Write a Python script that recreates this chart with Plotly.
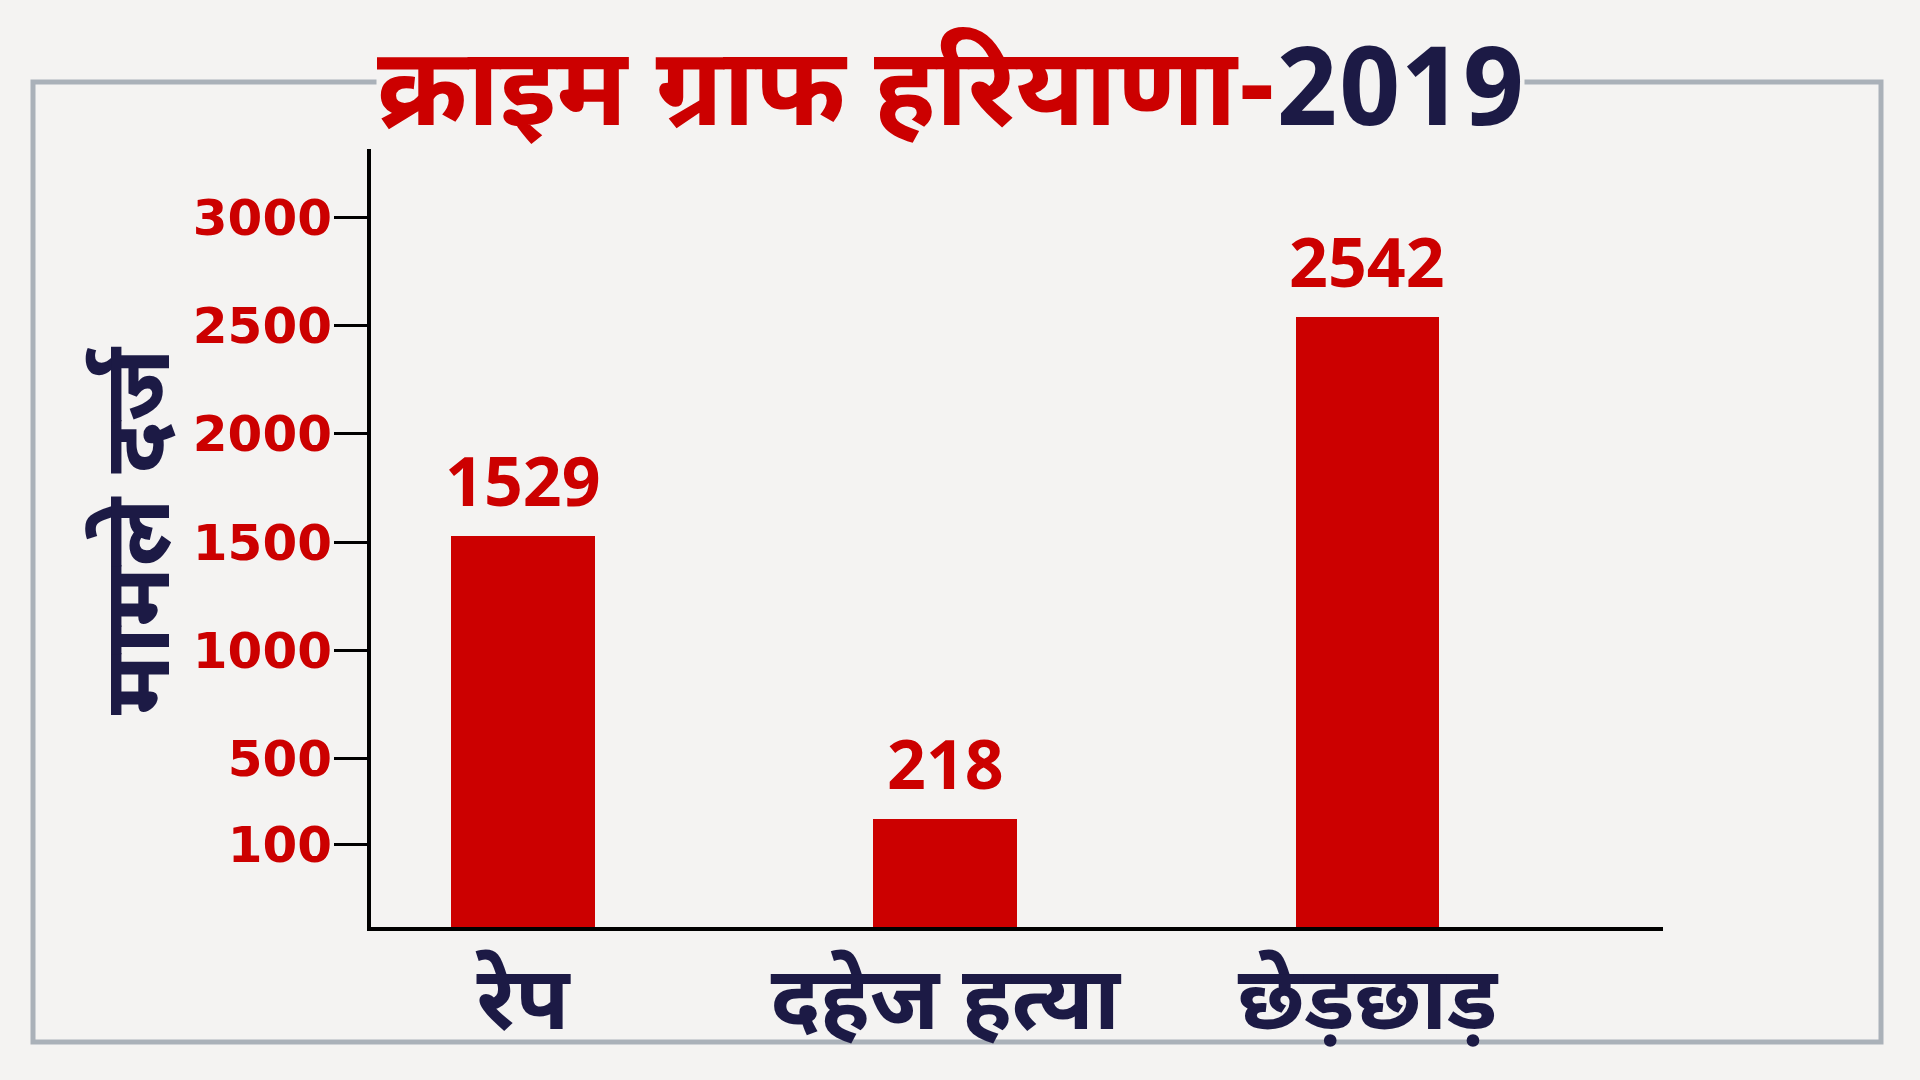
import plotly.graph_objects as go

# ---- data ----
categories = ["रेप", "दहेज हत्या", "छेड़छाड़"]
values = [1529, 218, 2542]
tick_vals = [100, 500, 1000, 1500, 2000, 2500, 3000]
tick_text = ["100", "500", "1000", "1500", "2000", "2500", "3000"]
title_red = "क्राइम ग्राफ हरियाणा-"
title_navy = "2019"
y_title = "मामले दर्ज"

RED = "#cc0000"
NAVY = "#1c1a45"
BG = "#f4f3f2"
Y_MIN, Y_MAX = -282, 3319
DEV = "Noto Sans Devanagari, Noto Sans, Lohit Devanagari, sans-serif"

W, H = 1920, 1080
L, R, T, B = 371, 1663, 149, 927


def px(x):
    return (x - L) / (R - L)


def py(y):
    return (B - y) / (B - T)


fig = go.Figure()
fig.add_trace(go.Bar(
    x=categories,
    y=[v - Y_MIN for v in values],
    base=Y_MIN,
    width=0.34,
    marker=dict(color=RED, line=dict(width=0)),
    customdata=values,
    hovertemplate="%{x}: %{customdata}<extra></extra>",
))

annotations = []
for c, v in zip(categories, values):
    annotations.append(dict(
        x=c, y=v, xref="x", yref="y", text=f"<b>{v}</b>", showarrow=False,
        yanchor="bottom", yshift=8,
        font=dict(family="Open Sans, sans-serif", size=68, color=RED),
    ))

annotations.append(dict(
    x=px(950), y=py(98), xref="paper", yref="paper", showarrow=False,
    xanchor="center", yanchor="middle",
    text=f"<b><span style='color:{RED}'>{title_red}</span><span style='color:{NAVY}'>{title_navy}</span></b>",
    font=dict(family=DEV, size=109, color=RED),
    bgcolor=BG, borderpad=0,
))
annotations.append(dict(
    x=px(146), y=py(530), xref="paper", yref="paper", showarrow=False,
    xanchor="center", yanchor="middle", textangle=-90,
    text=f"<b>{y_title}</b>",
    font=dict(family=DEV, size=93, color=NAVY),
))

fig.update_layout(
    width=W, height=H,
    margin=dict(l=L, r=W - R, t=T, b=H - B, pad=0),
    paper_bgcolor=BG, plot_bgcolor=BG,
    showlegend=False,
    annotations=annotations,
    shapes=[dict(
        type="rect", xref="paper", yref="paper",
        x0=px(33), x1=px(1881), y0=py(1042), y1=py(82),
        line=dict(color="#aab1b9", width=5), fillcolor="rgba(0,0,0,0)", layer="below",
    )],
    bargap=0,
)
fig.update_xaxes(
    range=[-0.36, 2.70], showline=True, linewidth=4, linecolor="black",
    ticks="", showgrid=False, zeroline=False,
    tickfont=dict(family=DEV, size=88, color=NAVY),
    tickprefix="<b>", ticksuffix="</b>", ticklabelstandoff=-8,
)
fig.update_yaxes(
    range=[Y_MIN, Y_MAX], showline=True, linewidth=4, linecolor="black",
    ticks="outside", ticklen=33, tickwidth=3, tickcolor="black",
    tickvals=tick_vals, ticktext=[f"<b>{t}</b>" for t in tick_text],
    tickfont=dict(family="DejaVu Sans, sans-serif", size=50, color=RED),
    showgrid=False, zeroline=False, ticklabelstandoff=-8,
)

fig.write_html("out.html")
